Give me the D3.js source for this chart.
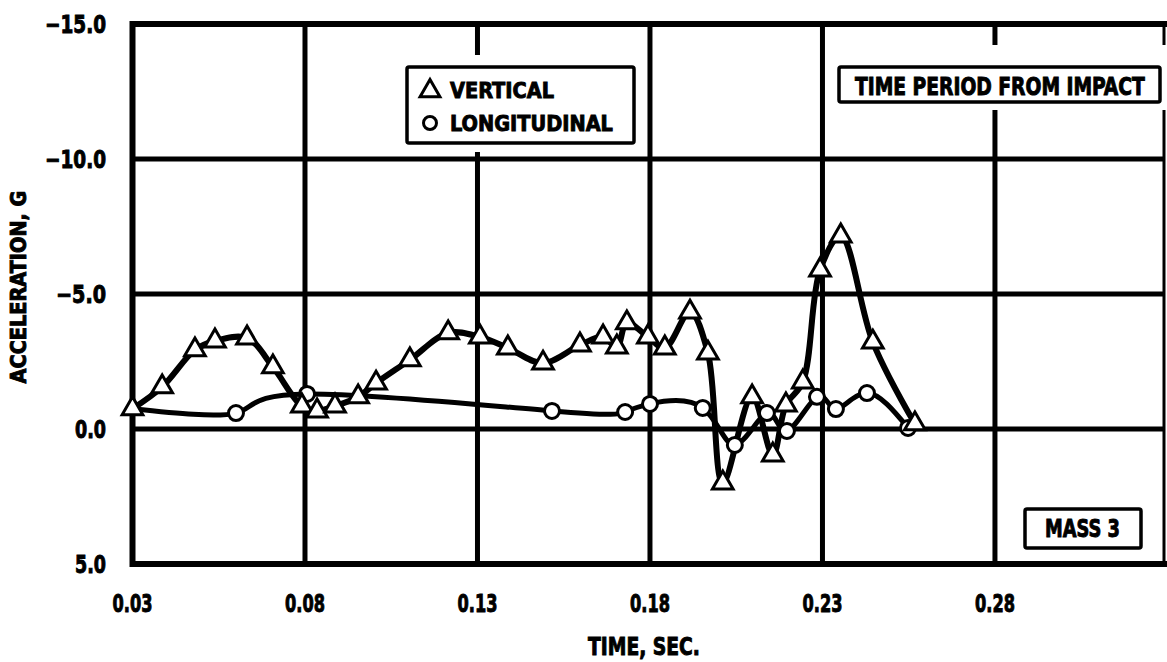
<!DOCTYPE html>
<html>
<head>
<meta charset="utf-8">
<script src="https://cdn.jsdelivr.net/npm/d3@7"></script>
<style>
  html, body { margin: 0; padding: 0; background: #fff; }
  svg { display: block; }
  text { font-family: "Liberation Sans Narrow", "DejaVu Sans Condensed", "Arial Narrow", sans-serif; font-weight: bold; fill: #000; stroke: #000; stroke-width: 0.9; }
</style>
</head>
<body>
<svg id="chart" width="1167" height="662"></svg>
<script>
// Time axis ticks (s) and acceleration axis ticks (G)
const timeTicks = [0.03, 0.08, 0.13, 0.18, 0.23, 0.28];
const accelTicks = [-15, -10, -5, 0, 5];

// Vertical acceleration, mass 3
const verticalTime = [0.030, 0.0386, 0.0481, 0.0539, 0.0632, 0.0707, 0.0791, 0.0835, 0.0887, 0.0954,
  0.1006, 0.1104, 0.1215, 0.1307, 0.1388, 0.1490, 0.1597, 0.1664, 0.1704, 0.1733,
  0.1794, 0.1843, 0.1916, 0.1968, 0.2011, 0.2096, 0.2156, 0.2194, 0.2243, 0.2293,
  0.2353, 0.2446, 0.2568];
const verticalAccel = [-0.75, -1.56, -2.93, -3.26, -3.37, -2.30, -0.85, -0.67, -0.85, -1.19,
  -1.70, -2.56, -3.56, -3.41, -3.00, -2.44, -3.11, -3.41, -3.04, -3.93,
  -3.41, -3.00, -4.33, -2.81, 2.00, -1.19, 0.96, -0.89, -1.74, -5.89,
  -7.15, -3.22, -0.19];

// Longitudinal acceleration, mass 3
const longTime = [0.030, 0.0600, 0.0806, 0.1516, 0.1728, 0.1800, 0.1953, 0.2046, 0.2139, 0.2197,
  0.2284, 0.2339, 0.2429, 0.2548];
const longAccel = [-0.75, -0.59, -1.30, -0.67, -0.63, -0.93, -0.78, 0.59, -0.59, 0.07,
  -1.19, -0.74, -1.33, -0.04];

const svg = d3.select("#chart");
const plotLeft = 132.5, plotTop = 24, plotRight = 1164, plotBottom = 564;

const x = d3.scaleLinear().domain([0.03, 0.329]).range([plotLeft, plotRight]);
const y = d3.scaleLinear().domain([-15, 5]).range([plotTop, plotBottom]);

// Place a text at (tx, ty) and squeeze it horizontally to the given width
function fitText(sel, tx, ty, width, extra = "") {
  sel.each(function () {
    const w = this.getComputedTextLength();
    const s = width / w;
    d3.select(this).attr("transform", `translate(${tx},${ty}) ${extra} scale(${s},1)`);
  });
  return sel;
}

// Grid lines
const grid = svg.append("g").attr("stroke", "#000").attr("stroke-width", 5);
grid.selectAll("line.v").data(timeTicks.slice(1)).join("line")
  .attr("class", "v")
  .attr("x1", d => x(d)).attr("x2", d => x(d))
  .attr("y1", plotTop).attr("y2", plotBottom);
grid.selectAll("line.h").data(accelTicks.slice(1, -1)).join("line")
  .attr("class", "h")
  .attr("x1", plotLeft).attr("x2", plotRight)
  .attr("y1", d => y(d)).attr("y2", d => y(d));

// Plot frame
svg.append("path")
  .attr("d", `M${plotRight},${plotTop}H${plotLeft}V${plotBottom}H${plotRight}`)
  .attr("fill", "none").attr("stroke", "#000").attr("stroke-width", 6)
  .attr("stroke-linecap", "square");
svg.append("line")
  .attr("x1", plotRight).attr("x2", plotRight).attr("y1", plotTop).attr("y2", plotBottom)
  .attr("stroke", "#000").attr("stroke-width", 3);

// Tick labels
const fmtAccel = d => (d < 0 ? "\u2212" : "") + Math.abs(d).toFixed(1);
svg.append("g").selectAll("text").data(accelTicks).join("text")
  .attr("text-anchor", "end").attr("font-size", 24)
  .text(fmtAccel)
  .each(function (d) {
    const w = this.getComputedTextLength();
    const target = d < 0 ? (Math.abs(d) >= 10 ? 61 : 50) : 31;
    d3.select(this).attr("transform", `translate(106,${y(d) + 9}) scale(${target / w},1)`);
  });
svg.append("g").selectAll("text").data(timeTicks).join("text")
  .attr("text-anchor", "middle").attr("font-size", 24)
  .text(d => d.toFixed(2))
  .each(function (d) {
    const w = this.getComputedTextLength();
    d3.select(this).attr("transform", `translate(${x(d)},612) scale(${40 / w},1)`);
  });

// Axis titles
fitText(svg.append("text").attr("text-anchor", "middle").attr("font-size", 22)
  .text("ACCELERATION, G"), 26, 287, 193, "rotate(-90)");
fitText(svg.append("text").attr("text-anchor", "middle").attr("font-size", 24)
  .text("TIME, SEC."), 644, 655, 112);

// Boxed annotations with a white margin that breaks the grid
function box(x0, y0, x1, y1, padTop, padBottom) {
  svg.append("rect")
    .attr("x", x0 - 8).attr("y", y0 - padTop)
    .attr("width", x1 - x0 + 16).attr("height", y1 - y0 + padTop + padBottom)
    .attr("fill", "#fff");
  svg.append("rect")
    .attr("x", x0).attr("y", y0).attr("width", x1 - x0).attr("height", y1 - y0)
    .attr("rx", 2).attr("fill", "#fff").attr("stroke", "#000").attr("stroke-width", 3.5);
}

box(407, 67, 634, 143, 12, 9);
box(839, 67, 1160, 102, 22, 8);
box(1025, 509, 1141, 548, 4, 4);

fitText(svg.append("text").attr("font-size", 24).text("TIME PERIOD FROM IMPACT"), 855, 95, 290);
fitText(svg.append("text").attr("font-size", 25).text("MASS 3"), 1045, 537, 75);

// Legend
const tri = d3.symbol().type(d3.symbolTriangle);
svg.append("path").attr("d", tri.size(170)())
  .attr("transform", "translate(430,91)")
  .attr("fill", "#fff").attr("stroke", "#000").attr("stroke-width", 3);
svg.append("circle").attr("cx", 430).attr("cy", 123).attr("r", 6.5)
  .attr("fill", "#fff").attr("stroke", "#000").attr("stroke-width", 3);
fitText(svg.append("text").attr("font-size", 22).text("VERTICAL"), 450, 98, 104);
fitText(svg.append("text").attr("font-size", 22).text("LONGITUDINAL"), 450, 131, 163);

// Series curves
const vertical = verticalTime.map((t, i) => [t, verticalAccel[i]]);
const longitudinal = longTime.map((t, i) => [t, longAccel[i]]);

svg.append("path")
  .datum(longitudinal)
  .attr("fill", "none").attr("stroke", "#000").attr("stroke-width", 5)
  .attr("stroke-linejoin", "round")
  .attr("d", d3.line().x(d => x(d[0])).y(d => y(d[1])).curve(d3.curveNatural));

svg.append("path")
  .datum(vertical)
  .attr("fill", "none").attr("stroke", "#000").attr("stroke-width", 6)
  .attr("stroke-linejoin", "round")
  .attr("d", d3.line().x(d => x(d[0])).y(d => y(d[1])).curve(d3.curveCatmullRom.alpha(0.5)));

// Markers
svg.append("g").selectAll("circle").data(longitudinal.slice(1)).join("circle")
  .attr("cx", d => x(d[0])).attr("cy", d => y(d[1])).attr("r", 7.5)
  .attr("fill", "#fff").attr("stroke", "#000").attr("stroke-width", 3);

svg.append("g").selectAll("path").data(vertical).join("path")
  .attr("d", tri.size(185)())
  .attr("transform", d => `translate(${x(d[0])},${y(d[1])})`)
  .attr("fill", "#fff").attr("stroke", "#000").attr("stroke-width", 3);
</script>
</body>
</html>
